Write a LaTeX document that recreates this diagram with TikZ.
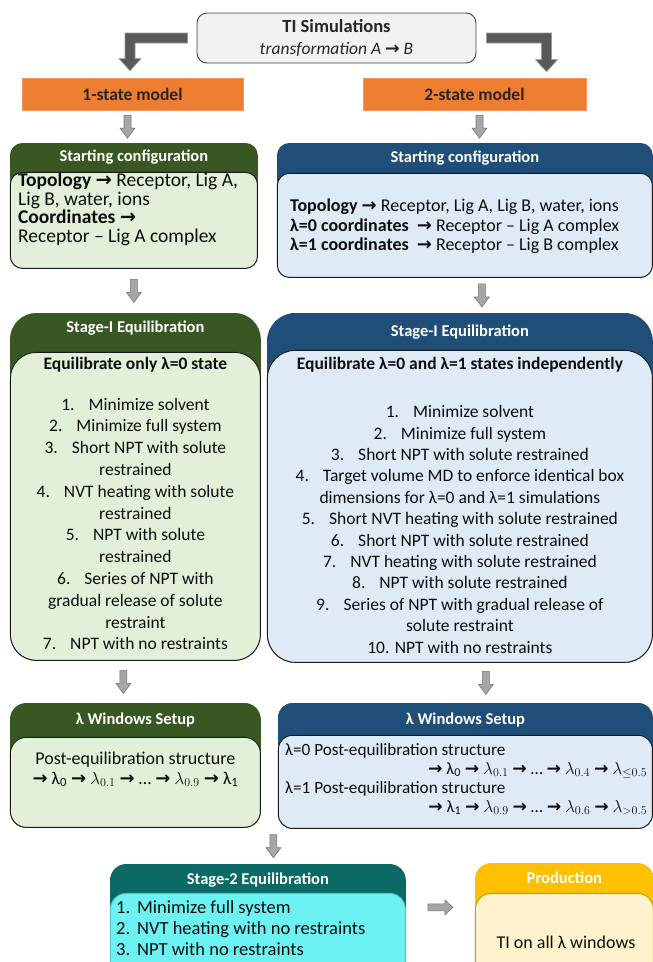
\documentclass[tikz,border=0pt]{standalone}
\usepackage{fontspec}
\setmainfont{Carlito}
\newfontfamily\arrowfont{DejaVu Sans}
\usetikzlibrary{calc,positioning}

\definecolor{tigray}{HTML}{F2F2F2}
\definecolor{tiedge}{HTML}{404040}
\definecolor{modelor}{HTML}{ED7D31}
\definecolor{elbowgray}{HTML}{595959}
\definecolor{stepgray}{HTML}{A6A6A6}
\definecolor{stepedge}{HTML}{767676}
\definecolor{greenhd}{HTML}{385723}
\definecolor{greenbg}{HTML}{E2F0D9}
\definecolor{bluehd}{HTML}{1F4E79}
\definecolor{bluebg}{HTML}{DEEBF7}
\definecolor{tealhd}{HTML}{0B6A66}
\definecolor{tealbg}{HTML}{6CF2F2}
\definecolor{goldhd}{HTML}{FFC000}
\definecolor{goldbg}{HTML}{FFF2CC}

\newcommand{\rarr}{{\arrowfont\bfseries →}}
\newcommand{\itemgap}{\hspace{0.8em}}

\tikzset{
  tibox/.style={draw=tiedge, fill=tigray, line width=0.9pt, rounded corners=10pt, align=center, text=black!85, font=\fontsize{17.5}{22}\selectfont},
  model/.style={fill=modelor, draw=modelor!80!white, line width=0.6pt, text=black!85, font=\bfseries\fontsize{17.5}{20}\selectfont},
  panel/.style={draw=#1, fill=#1, line width=0.8pt, inner sep=0pt},
  body/.style={draw=black!90, fill=#1, line width=0.9pt, inner sep=0pt},
  headtext/.style={text=white, font=\bfseries\fontsize{16.5}{20}\selectfont, inner sep=0pt},
  bodytext/.style={inner sep=0pt, text=black!95, align=center},
  steparrow/.style={fill=stepgray, draw=stepedge, line width=0.6pt},
  elbowarrow/.style={fill=elbowgray, draw=black!40, line width=0.6pt}
}

\newcommand{\elbow}[3]{%
  \draw[elbowarrow] let \p1=(#1), \p2=(#2) in
    (\x1,\y1+5pt) -- ({\x2-(#3)*5pt},\y1+5pt) -- ({\x2-(#3)*5pt},\y2+12pt) -- ({\x2-(#3)*11pt},\y2+12pt)
    -- (\x2,\y2) -- ({\x2+(#3)*11pt},\y2+12pt) -- ({\x2+(#3)*5pt},\y2+12pt) -- ({\x2+(#3)*5pt},\y1-5pt)
    -- (\x1,\y1-5pt) -- cycle;}
\newcommand{\stepdown}[2]{%
  \draw[steparrow] let \p1=(#1), \p3=($(#1)!.5!(#2)$) in
    (\x1-3.5pt,\y3+11.5pt) -- (\x1+3.5pt,\y3+11.5pt) -- (\x1+3.5pt,\y3-1.5pt) -- (\x1+7.5pt,\y3-1.5pt)
    -- (\x1,\y3-11.5pt) -- (\x1-7.5pt,\y3-1.5pt) -- (\x1-3.5pt,\y3-1.5pt) -- cycle;}
\newcommand{\stepright}[2]{%
  \draw[steparrow] let \p1=(#1), \p3=($(#1)!.5!(#2)$) in
    (\x3-12.5pt,\y1+3.5pt) -- (\x3+4.5pt,\y1+3.5pt) -- (\x3+4.5pt,\y1+7.5pt) -- (\x3+12.5pt,\y1)
    -- (\x3+4.5pt,\y1-7.5pt) -- (\x3+4.5pt,\y1-3.5pt) -- (\x3-12.5pt,\y1-3.5pt) -- cycle;}

\begin{document}
\begin{tikzpicture}[x=1pt, y=-1pt]
\useasboundingbox (0,0) rectangle (653,962);
\clip (0,0) rectangle (653,962);

\node[tibox, minimum width=279pt, minimum height=50pt] (ti) at (336.5,38) {{\bfseries\fontsize{18.5}{22}\selectfont TI Simulations}\\\textit{transformation A \rarr\ B}};
\node[model, minimum width=221pt, minimum height=32pt] (one) at (132.5,94) {1-state model};
\node[model, minimum width=223pt, minimum height=32pt] (two) at (474.5,94) {2-state model};

\node[panel=greenhd, rounded corners=12pt, minimum width=247pt, minimum height=125pt, anchor=north west] (cfgA) at (10,143) {};
\node[body=greenbg, rounded corners=12pt, minimum width=247pt, minimum height=96pt, anchor=south] (cfgAb) at (cfgA.south) {};
\node[headtext] (cfgAt) at ($(cfgA.north)+(0,14.5)$) {Starting configuration};
\node[bodytext, align=left, font=\fontsize{19.5}{18.5}\selectfont, anchor=north west] (cfgAx) at ($(cfgAb.north west)+(8,1)$)
  {\textbf{Topology} \rarr\ Receptor, Lig A,\\Lig B, water, ions\\\textbf{Coordinates} \rarr\\Receptor – Lig A complex};

\node[panel=bluehd, rounded corners=12pt, minimum width=375pt, minimum height=134pt, anchor=north west] (cfgB) at (277,143) {};
\node[body=bluebg, rounded corners=12pt, minimum width=375pt, minimum height=104pt, anchor=south] (cfgBb) at (cfgB.south) {};
\node[headtext] (cfgBt) at ($(cfgB.north)+(0,15)$) {Starting configuration};
\node[bodytext, align=left, font=\fontsize{18}{19.5}\selectfont, anchor=north west] (cfgBx) at ($(cfgBb.north west)+(13,26)$)
  {\textbf{Topology} \rarr\ Receptor, Lig A, Lig B, water, ions\\\textbf{λ=0 coordinates}\ \ \rarr\ Receptor – Lig A complex\\\textbf{λ=1 coordinates}\ \ \rarr\ Receptor – Lig B complex};

\node[panel=greenhd, rounded corners=26pt, minimum width=250pt, minimum height=347pt, anchor=north west] (eqA) at (10,313) {};
\node[body=greenbg, rounded corners=26pt, minimum width=250pt, minimum height=308pt, anchor=south] (eqAb) at (eqA.south) {};
\node[headtext] (eqAt) at ($(eqA.north)+(0,15)$) {Stage-I Equilibration};
\node[bodytext, font=\fontsize{17.5}{21.8}\selectfont, anchor=north] (eqAx) at ($(eqAb.north)+(0,5)$)
  {\textbf{Equilibrate only λ=0 state}\\[19pt]
   1.\itemgap Minimize solvent\\
   2.\itemgap Minimize full system\\
   3.\itemgap Short NPT with solute\\
   restrained\\
   4.\itemgap NVT heating with solute\\
   restrained\\
   5.\itemgap NPT with solute\\
   restrained\\
   6.\itemgap Series of NPT with\\
   gradual release of solute\\
   restraint\\
   7.\itemgap NPT with no restraints};

\node[panel=bluehd, rounded corners=28pt, minimum width=385pt, minimum height=349pt, anchor=north west] (eqB) at (267,313) {};
\node[body=bluebg, rounded corners=28pt, minimum width=385pt, minimum height=312pt, anchor=south] (eqBb) at (eqB.south) {};
\node[headtext] (eqBt) at ($(eqB.north)+(0,19)$) {Stage-I Equilibration};
\node[bodytext, font=\fontsize{17.5}{21.4}\selectfont, anchor=north] (eqBx) at ($(eqBb.north)+(0,7)$)
  {\textbf{Equilibrate λ=0 and λ=1 states independently}\\[27pt]
   1.\itemgap Minimize solvent\\
   2.\itemgap Minimize full system\\
   3.\itemgap Short NPT with solute restrained\\
   4.\itemgap Target volume MD to enforce identical box\\
   dimensions for λ=0 and λ=1 simulations\\
   5.\itemgap Short NVT heating with solute restrained\\
   6.\itemgap Short NPT with solute restrained\\
   7.\itemgap NVT heating with solute restrained\\
   8.\itemgap NPT with solute restrained\\
   9.\itemgap Series of NPT with gradual release of\\
   solute restraint\\
   10. NPT with no restraints};

\node[panel=greenhd, rounded corners=16pt, minimum width=250pt, minimum height=124pt, anchor=north west] (winA) at (10,703) {};
\node[body=greenbg, rounded corners=16pt, minimum width=250pt, minimum height=90pt, anchor=south] (winAb) at (winA.south) {};
\node[headtext] (winAt) at ($(winA.north)+(0,17)$) {λ Windows Setup};
\node[bodytext, font=\fontsize{18}{19.5}\selectfont, anchor=north] (winAx) at ($(winAb.north)+(0,15)$)
  {Post-equilibration structure\\
   \rarr\ λ\textsubscript{0} \rarr\ $\lambda_{0.1}$ \rarr\ … \rarr\ $\lambda_{0.9}$ \rarr\ λ\textsubscript{1}};

\node[panel=bluehd, rounded corners=14pt, minimum width=374pt, minimum height=125pt, anchor=north west] (winB) at (278,703) {};
\node[body=bluebg, rounded corners=14pt, minimum width=374pt, minimum height=93pt, anchor=south] (winBb) at (winB.south) {};
\node[headtext] (winBt) at ($(winB.north)+(0,17)$) {λ Windows Setup};
\node[bodytext, align=left, font=\fontsize{17.2}{19}\selectfont, anchor=north west] (winBx) at ($(winBb.north west)+(7,8)$)
  {λ=0 Post-equilibration structure\\
   \makebox[362pt][r]{\rarr\ λ\textsubscript{0} \rarr\ $\lambda_{0.1}$ \rarr\ … \rarr\ $\lambda_{0.4}$ \rarr\ $\lambda_{\leq 0.5}$}\\
   λ=1 Post-equilibration structure\\
   \makebox[362pt][r]{\rarr\ λ\textsubscript{1} \rarr\ $\lambda_{0.9}$ \rarr\ … \rarr\ $\lambda_{0.6}$ \rarr\ $\lambda_{>0.5}$}};

\coordinate (merge) at ([xshift=4pt]$(winA.south east)!.5!(winB.south west)$);

\node[panel=tealhd, rounded corners=16pt, minimum width=295pt, minimum height=120pt, anchor=north west] (eqC) at (110,864) {};
\node[body=tealbg, draw=tealbg!80!black, rounded corners=16pt, minimum width=295pt, minimum height=91pt, anchor=south] (eqCb) at (eqC.south) {};
\node[headtext] (eqCt) at ($(eqC.north)+(0,16)$) {Stage-2 Equilibration};
\node[bodytext, align=left, font=\fontsize{18.5}{21}\selectfont, anchor=north west] (eqCx) at ($(eqCb.north west)+(6,8)$)
  {\makebox[21pt][l]{1.}Minimize full system\\
   \makebox[21pt][l]{2.}NVT heating with no restraints\\
   \makebox[21pt][l]{3.}NPT with no restraints};

\node[panel=goldhd, rounded corners=16pt, minimum width=178pt, minimum height=120pt, anchor=north west] (prod) at (475,863) {};
\node[body=goldbg, draw=goldhd!80!black, rounded corners=16pt, minimum width=178pt, minimum height=90pt, anchor=south] (prodb) at (prod.south) {};
\node[headtext] (prodt) at ($(prod.north)+(0,15)$) {Production};
\node[bodytext, font=\fontsize{18}{20}\selectfont] (prodx) at ($(prodb.north west)+(91,49)$) {TI on all λ windows};

\elbow{[xshift=-9pt]ti.west}{[xshift=-2.5pt,yshift=7pt]one.north}{1}
\elbow{[xshift=10pt]ti.east}{[xshift=72pt,yshift=6pt]two.north}{-1}
\stepdown{[xshift=-5pt]one.south}{cfgA.north}
\stepdown{[xshift=5pt]two.south}{cfgB.north}
\stepdown{cfgA.south}{eqA.north}
\stepdown{[xshift=17pt]cfgB.south}{eqB.north}
\stepdown{[xshift=-12pt]eqA.south}{winA.north}
\stepdown{[xshift=26pt]eqB.south}{winB.north}
\stepdown{merge}{eqC.north}
\stepright{[yshift=17pt]eqC.east}{prod.west}
\end{tikzpicture}
\end{document}
